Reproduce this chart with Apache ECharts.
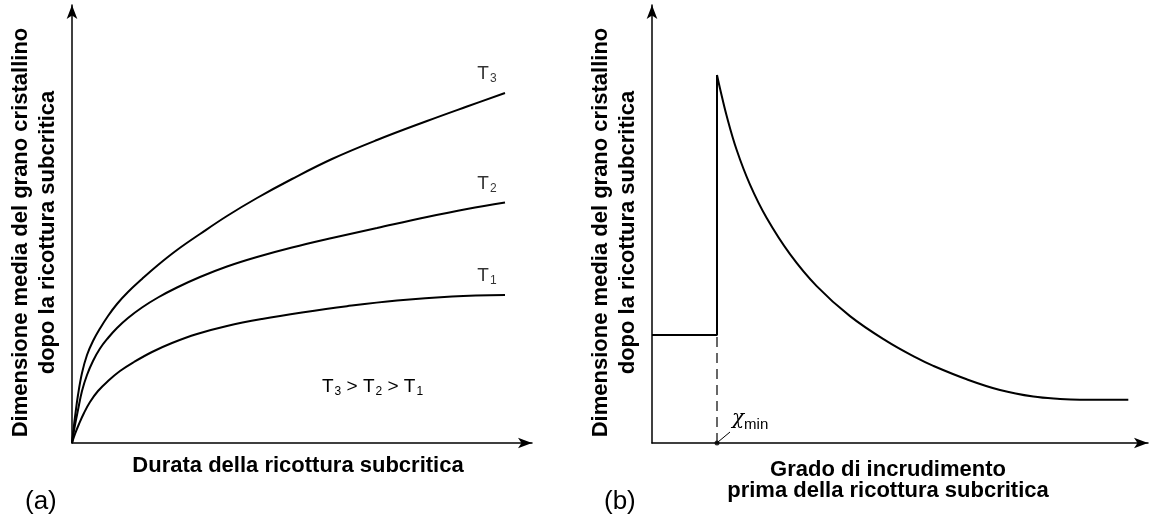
<!DOCTYPE html>
<html><head><meta charset="utf-8">
<script src="https://cdn.jsdelivr.net/npm/echarts@6/dist/echarts.min.js"></script>
<style>html,body{margin:0;padding:0;background:#fff}#c{width:1150px;height:520px}</style>
</head><body><div id="c"></div>
<script>
// ---- Panel (a): grain size vs annealing time (arbitrary units) ----
const timeT3 = [0, 1, 3, 6, 10, 15, 21, 28, 36, 45, 56, 70, 86, 105, 128, 155, 185, 220, 260, 305, 355, 395, 433];
const grainT3 = [0, 9, 26, 48, 70, 88, 102, 114.5, 127, 139, 151, 164, 178, 193, 209, 227, 245, 264, 284, 303, 322, 336.5, 350];
const timeT2 = [0, 1, 3, 6, 10, 15, 21, 28, 36, 45, 56, 70, 86, 105, 128, 155, 185, 220, 260, 305, 355, 395, 433];
const grainT2 = [0, 6.5, 18, 33, 52, 68, 82, 94.5, 105, 115, 125, 135.5, 145.5, 155.5, 166, 176.5, 186, 195.5, 205, 215, 226, 234, 240.5];
const timeT1 = [0, 3, 7, 12, 18, 26, 36, 48, 62, 80, 100, 125, 155, 190, 230, 275, 325, 380, 433];
const grainT1 = [0, 9, 19, 30, 41, 52, 62, 72, 81, 91, 100, 109, 117, 124, 130.5, 136.8, 142.5, 146.5, 148];
const curveLabels = ['3', '2', '1'];

// ---- Panel (b): grain size vs degree of cold work (arbitrary units) ----
const strainStep = [0, 65, 65];
const grainStep = [108, 108, 368];
const strainCurve = [65, 68, 74.7, 84.7, 98, 114.7, 138, 164.7, 198, 234.7, 264.7, 281.3, 314.7, 348, 381.3, 408, 428, 476.3];
const grainCurve = [368, 354.5, 327, 293, 258.4, 225, 188.9, 156.9, 126.9, 101.9, 85.1, 77.1, 63.7, 53, 46.4, 44, 43.2, 43.2];
const chiMin = 65;

const xNameA = 'Durata della ricottura subcritica';
const xNameB = 'Grado di incrudimento\nprima della ricottura subcritica';
const yName = 'Dimensione media del grano cristallino\ndopo la ricottura subcritica';

const FONT = 'Liberation Sans, Arial, sans-serif';
const zip = (a, b) => a.map((v, i) => [v, b[i]]);
const rich = {
  T: { fontFamily: FONT, fontSize: 19, color: '#000' },
  s: { fontFamily: FONT, fontSize: 12, color: '#000', padding: [10, 0, 0, 1] }
};

function axis(gridIndex, max, name, nameGap, lh, pad) {
  return {
    type: 'value', gridIndex, min: 0, max,
    axisLine: { show: true, onZero: false, symbol: ['none', 'arrow'], symbolSize: [8, 14],
      lineStyle: { color: '#000', width: 1.5 } },
    axisTick: { show: false }, axisLabel: { show: false }, splitLine: { show: false },
    name, nameLocation: 'middle', nameGap,
    nameTextStyle: { fontFamily: FONT, fontWeight: 'bold', fontSize: 22, color: '#000', lineHeight: lh,
      padding: pad || 0 }
  };
}
const lineStyle = { color: '#000', width: 2 };
function curve(xi, xs, ys) {
  return { type: 'line', xAxisIndex: xi, yAxisIndex: xi, data: zip(xs, ys), smooth: 0.4,
    showSymbol: false, symbol: 'none', lineStyle, silent: true, z: 3 };
}
function endLabel(xs, ys, sub) {
  return { type: 'scatter', xAxisIndex: 0, yAxisIndex: 0, symbolSize: 0, silent: true,
    data: [[xs[xs.length - 1], ys[ys.length - 1]]],
    label: { show: true, position: 'top', offset: [-18, -3], formatter: '{T|T}{s|' + sub + '}', rich } };
}

const chart = echarts.init(document.getElementById('c'), null, { renderer: 'canvas' });
chart.setOption({
  animation: false,
  backgroundColor: '#fff',
  grid: [
    { left: 72, top: 5, width: 460, height: 438 },
    { left: 652, top: 5, width: 496, height: 438 }
  ],
  xAxis: [axis(0, 460, xNameA, 11, 24, [0, 8, 0, 0]), axis(1, 496, xNameB, 16, 21, [0, 24, 0, 0])],
  yAxis: [axis(0, 438, yName, 11, 27, [0, 17, 0, 0]), axis(1, 438, yName, 11, 27, [0, 17, 0, 0])],
  series: [
    curve(0, timeT3, grainT3), curve(0, timeT2, grainT2), curve(0, timeT1, grainT1),
    endLabel(timeT3, grainT3, curveLabels[0]),
    endLabel(timeT2, grainT2, curveLabels[1]),
    endLabel(timeT1, grainT1, curveLabels[2]),
    { type: 'line', xAxisIndex: 1, yAxisIndex: 1, data: zip(strainStep, grainStep), showSymbol: false,
      symbol: 'none', lineStyle, silent: true },
    curve(1, strainCurve, grainCurve),
    { type: 'line', xAxisIndex: 1, yAxisIndex: 1, data: [[chiMin, 0], [chiMin, grainStep[0]]], showSymbol: false,
      symbol: 'none', lineStyle: { color: '#000', width: 1.2, type: [10, 6] }, silent: true },
    { type: 'scatter', xAxisIndex: 1, yAxisIndex: 1, data: [[chiMin, 0]], symbolSize: 5,
      itemStyle: { color: '#000' }, silent: true, z: 5 }
  ]
});

const dot = chart.convertToPixel({ xAxisIndex: 1, yAxisIndex: 1 }, [chiMin, 0]);
chart.setOption({
  graphic: [
    { type: 'line', shape: { x1: dot[0] + 1, y1: dot[1] - 1, x2: dot[0] + 13, y2: dot[1] - 11 },
      style: { stroke: '#000', lineWidth: 1 } },
    { type: 'text', x: dot[0] + 15, y: dot[1] - 37,
      style: { text: '{c|χ}{m|min}', rich: {
        c: { fontFamily: 'DejaVu Serif, serif', fontStyle: 'italic', fontSize: 20, color: '#000' },
        m: { fontFamily: FONT, fontSize: 15, color: '#000', padding: [11, 0, 0, 0] } } } },
    { type: 'text', x: 322, y: 376,
      style: { text: '{T|T}{s|3}{T| > T}{s|2}{T| > T}{s|1}', rich } },
    { type: 'text', x: 25, y: 489, style: { text: '(a)', fontFamily: FONT, fontSize: 26, fill: '#000' } },
    { type: 'text', x: 604, y: 489, style: { text: '(b)', fontFamily: FONT, fontSize: 26, fill: '#000' } }
  ]
});
</script></body></html>
